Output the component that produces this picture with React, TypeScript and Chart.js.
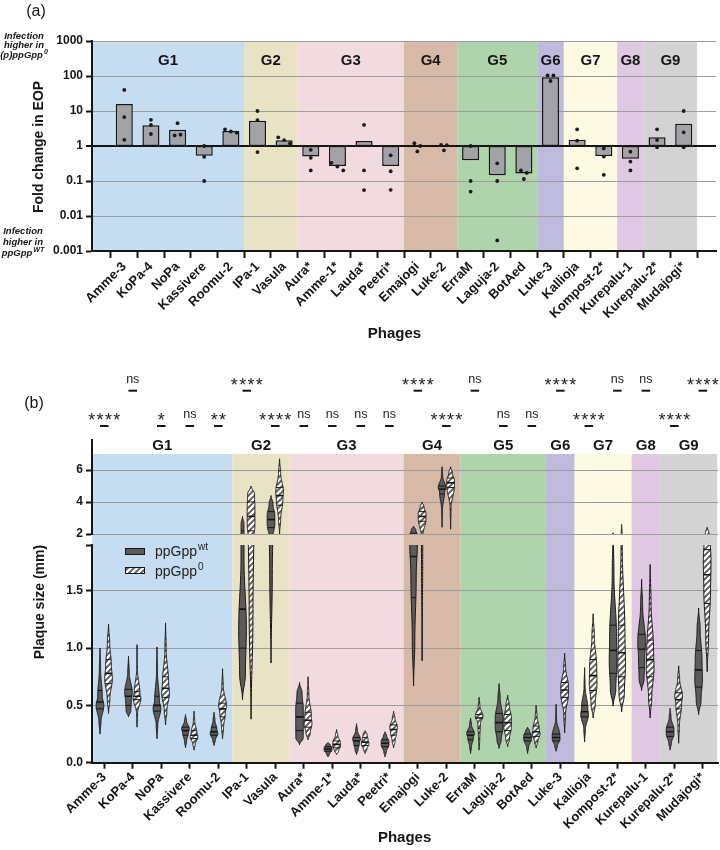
import React, { useEffect, useRef } from 'react';
import { Chart, registerables } from 'chart.js';

Chart.register(...registerables);

const FONT = '"Liberation Sans", Arial, Helvetica, sans-serif';
Chart.defaults.font.family = FONT;

// ---------- shared categories ----------
const phages = [
  'Amme-3', 'KoPa-4', 'NoPa', 'Kassivere', 'Roomu-2', 'IPa-1', 'Vasula', 'Aura*',
  'Amme-1*', 'Lauda*', 'Peetri*', 'Emajogi', 'Luke-2', 'ErraM', 'Laguja-2', 'BotAed',
  'Luke-3', 'Kallioja', 'Kompost-2*', 'Kurepalu-1', 'Kurepalu-2*', 'Mudajogi*',
];
const groupNames = ['G1', 'G2', 'G3', 'G4', 'G5', 'G6', 'G7', 'G8', 'G9'];
const groupSizes = [5, 2, 4, 2, 3, 1, 2, 1, 2];
const groupColors = [
  '#c6dcf1', '#e9e3c6', '#f2dbdf', '#d6b9a6', '#afd3aa',
  '#bdbadc', '#fcfae3', '#dfc9e2', '#d3d3d3',
];

// ---------- (a) fold change in EOP ----------
const eopMean = [15.8, 3.9, 2.9, 0.53, 2.7, 5.3, 1.45, 0.5, 0.27, 1.38, 0.27, 0.97, 0.96, 0.39, 0.145, 0.165, 92, 1.5, 0.52, 0.43, 1.78, 4.3];
const eopRep1 = [40, 5.6, 4.5, 1.0, 3.0, 10, 1.77, 0.78, 0.33, 4.0, 0.54, 1.2, 1.07, 1.0, 0.32, 0.2, 104, 3.0, 0.85, 0.69, 3.0, 10];
const eopRep2 = [6.7, 4.0, 2.0, 0.49, 2.6, 5.5, 1.48, 0.46, 0.26, 0.2, 0.19, 1.0, 1.05, 0.1, 0.1, 0.17, 104, 1.42, 0.5, 0.36, 1.48, 2.46];
const eopRep3 = [1.5, 2.2, 2.1, 0.1, 2.4, 0.67, 1.19, 0.2, 0.2, 0.055, 0.056, 0.7, 0.75, 0.05, 0.002, 0.114, 72, 0.23, 0.15, 0.2, 0.92, 0.92];
const eopTicks = [0.001, 0.01, 0.1, 1, 10, 100, 1000];
const eopTickLabels = ['0.001', '0.01', '0.1', '1', '10', '100', '1000'];

// ---------- (b) plaque size (mm): min, quartiles, max ----------
const wtMin = [0.25, 0.40, 0.21, 0.13, 0.15, 0.55, 0.87, 0.155, 0.05, 0.07, 0.05, 0.67, 2.42, 0.08, 0.125, 0.08, 0.10, 0.18, 0.495, 0.63, 0.11, 0.42];
const wtQ1 = [0.47, 0.50, 0.45, 0.24, 0.24, 1.0, 2.4, 0.28, 0.10, 0.15, 0.14, 1.44, 4.5, 0.20, 0.27, 0.19, 0.19, 0.40, 0.78, 0.83, 0.23, 0.66];
const wtMedian = [0.53, 0.58, 0.50, 0.28, 0.27, 1.34, 2.9, 0.40, 0.12, 0.19, 0.17, 1.80, 4.8, 0.24, 0.35, 0.22, 0.22, 0.445, 0.98, 0.99, 0.27, 0.81];
const wtQ3 = [0.63, 0.64, 0.58, 0.31, 0.31, 2.2, 3.4, 0.52, 0.14, 0.22, 0.20, 2.05, 5.0, 0.27, 0.43, 0.25, 0.25, 0.50, 1.2, 1.12, 0.31, 0.98];
const wtMax = [1.00, 0.93, 1.01, 0.42, 0.44, 3.1, 4.4, 0.70, 0.175, 0.34, 0.27, 2.5, 6.2, 0.39, 0.69, 0.31, 0.51, 0.83, 2.08, 1.60, 0.475, 1.35];

const koMin = [0.43, 0.31, 0.33, 0.11, 0.21, 0.38, 2.0, 0.20, 0.07, 0.08, 0.13, 0.89, 2.3, 0.11, 0.14, 0.13, 0.26, 0.39, 0.445, 0.39, 0.17, 0.795];
const koQ1 = [0.69, 0.55, 0.57, 0.21, 0.40, 2.2, 3.8, 0.31, 0.13, 0.15, 0.24, 2.8, 4.9, 0.30, 0.28, 0.23, 0.57, 0.63, 0.75, 0.75, 0.47, 1.39];
const koMedian = [0.78, 0.58, 0.65, 0.24, 0.47, 3.1, 4.4, 0.37, 0.16, 0.18, 0.29, 3.1, 5.2, 0.39, 0.35, 0.27, 0.635, 0.76, 0.96, 0.90, 0.55, 1.64];
const koQ3 = [0.90, 0.62, 0.75, 0.28, 0.52, 4.0, 4.9, 0.44, 0.19, 0.22, 0.33, 3.4, 5.5, 0.42, 0.42, 0.32, 0.70, 0.90, 1.2, 1.07, 0.61, 1.86];
const koMax = [1.21, 1.03, 1.22, 0.45, 0.82, 5.0, 6.7, 0.75, 0.29, 0.28, 0.45, 4.0, 6.2, 0.57, 0.59, 0.50, 0.955, 1.30, 2.6, 1.73, 0.845, 2.42];

const lowTicks = [0, 0.5, 1, 1.5, 1.9];
const lowTickLabels = ['0.0', '0.5', '1.0', '1.5', ''];
const highTicks = [2, 4, 6];
const highTickLabels = ['2', '4', '6'];

// significance per phage; row 0 = upper line, row 1 = lower line
const sigLabels = ['****', 'ns', '*', 'ns', '**', '****', '****', 'ns', 'ns', 'ns', 'ns', '****', '****', 'ns', 'ns', 'ns', '****', '****', 'ns', 'ns', '****', '****'];
const sigRow = [1, 0, 1, 1, 1, 0, 1, 1, 1, 1, 1, 0, 1, 0, 1, 1, 0, 1, 0, 0, 1, 0];

const INK = '#151515';
const GRID = '#9c9c9c';
const WT_FILL = '#5b5b5b';

// ---------- helpers ----------
function groupSpans() {
  const spans: { name: string; start: number; end: number; color: string }[] = [];
  let s = 0;
  groupSizes.forEach((n, g) => {
    spans.push({ name: groupNames[g], start: s - 0.5, end: s + n - 0.5, color: groupColors[g] });
    s += n;
  });
  return spans;
}

function jitterOffsets(vals: number[]) {
  const logs = vals.map((v) => Math.log10(v));
  const offs = vals.map(() => 0);
  const seen = new Set<number>();
  vals.forEach((_, j) => {
    if (seen.has(j)) return;
    const cluster = [j];
    for (let k = 0; k < cluster.length; k++) {
      for (let m = 0; m < vals.length; m++) {
        if (!cluster.includes(m) && Math.abs(logs[cluster[k]] - logs[m]) < 0.12) cluster.push(m);
      }
    }
    cluster.forEach((m) => seen.add(m));
    if (cluster.length > 1) {
      cluster.sort((a, b) => a - b);
      cluster.forEach((m, r) => { offs[m] = (r - (cluster.length - 1) / 2) * 0.22; });
    }
  });
  return offs;
}

function drawSupText(ctx: CanvasRenderingContext2D, base: string, sup: string, x: number, y: number,
  font: string, supFont: string, rise: number, align: 'left' | 'center') {
  ctx.save();
  ctx.textBaseline = 'alphabetic';
  ctx.textAlign = 'left';
  ctx.font = font;
  const wb = ctx.measureText(base).width;
  ctx.font = supFont;
  const ws = ctx.measureText(sup).width;
  const x0 = align === 'center' ? x - (wb + ws + 1) / 2 : x;
  ctx.font = font;
  ctx.fillText(base, x0, y);
  ctx.font = supFont;
  ctx.fillText(sup, x0 + wb + 1, y - rise);
  ctx.restore();
}

function drawBands(chart: any, topPx: number, bottomPx: number) {
  const { ctx, chartArea } = chart;
  const xs = chart.scales.x;
  ctx.save();
  groupSpans().forEach((g, k) => {
    const l = k === 0 ? chartArea.left : xs.getPixelForValue(g.start);
    const r = xs.getPixelForValue(g.end);
    ctx.fillStyle = g.color;
    ctx.fillRect(l, topPx, r - l, bottomPx - topPx);
  });
  ctx.restore();
}

function drawGroupLabels(chart: any, y: number) {
  const { ctx, chartArea } = chart;
  const xs = chart.scales.x;
  ctx.save();
  ctx.font = `bold 15px ${FONT}`;
  ctx.fillStyle = INK;
  ctx.textAlign = 'center';
  ctx.textBaseline = 'middle';
  groupSpans().forEach((g, k) => {
    const l = k === 0 ? chartArea.left : xs.getPixelForValue(g.start);
    const r = xs.getPixelForValue(g.end);
    ctx.fillText(g.name, (l + r) / 2, y);
  });
  ctx.restore();
}

function drawVerticalTitle(ctx: CanvasRenderingContext2D, text: string, x: number, y: number) {
  ctx.save();
  ctx.translate(x, y);
  ctx.rotate(-Math.PI / 2);
  ctx.font = `bold 14px ${FONT}`;
  ctx.fillStyle = INK;
  ctx.textAlign = 'center';
  ctx.textBaseline = 'middle';
  ctx.fillText(text, 0, 0);
  ctx.restore();
}

// width profile of a violin built from its quartile intervals
function violinShape(stats: number[]) {
  const [mn, q1, md, q3, mx] = stats;
  const seg = [q1 - mn, md - q1, q3 - md, mx - q3].map((d) => Math.max(d, 0.004));
  const dens = seg.map((d) => 0.25 / d);
  const peak = Math.max(...dens);
  const knots: [number, number][] = [
    [mn, 0],
    [(mn + q1) / 2, dens[0] / peak],
    [(q1 + md) / 2, dens[1] / peak],
    [(md + q3) / 2, dens[2] / peak],
    [(q3 + mx) / 2, dens[3] / peak],
    [mx, 0],
  ];
  return (v: number) => {
    for (let k = 0; k < knots.length - 1; k++) {
      const [a, wa] = knots[k];
      const [b, wb] = knots[k + 1];
      if (v >= a && v <= b) {
        const t = b > a ? (v - a) / (b - a) : 0;
        const s = (1 - Math.cos(Math.PI * t)) / 2;
        return wa + (wb - wa) * s;
      }
    }
    return 0;
  };
}

function drawViolin(ctx: CanvasRenderingContext2D, cx: number, ys: any, stats: number[], halfMax: number, fill: any) {
  const prof = violinShape(stats);
  const [mn, q1, md, q3, mx] = stats;
  const n = 120;
  ctx.beginPath();
  for (let k = 0; k <= n; k++) {
    const v = mn + ((mx - mn) * k) / n;
    const w = prof(v) * halfMax;
    const y = ys.getPixelForValue(v);
    if (k === 0) ctx.moveTo(cx + w, y); else ctx.lineTo(cx + w, y);
  }
  for (let k = n; k >= 0; k--) {
    const v = mn + ((mx - mn) * k) / n;
    ctx.lineTo(cx - prof(v) * halfMax, ys.getPixelForValue(v));
  }
  ctx.closePath();
  ctx.fillStyle = fill;
  ctx.fill();
  ctx.lineWidth = 1;
  ctx.strokeStyle = INK;
  ctx.stroke();
  ([[q1, 1], [md, 1.6], [q3, 1]] as [number, number][]).forEach(([v, lw]) => {
    const w = Math.max(prof(v) * halfMax, 0.8);
    const y = ys.getPixelForValue(v);
    ctx.beginPath();
    ctx.moveTo(cx - w, y);
    ctx.lineTo(cx + w, y);
    ctx.lineWidth = lw;
    ctx.strokeStyle = INK;
    ctx.stroke();
  });
}

function makeHatch(ctx: CanvasRenderingContext2D) {
  const c = document.createElement('canvas');
  c.width = 6;
  c.height = 6;
  const g = c.getContext('2d')!;
  g.fillStyle = WT_FILL;
  g.fillRect(0, 0, 6, 6);
  g.strokeStyle = '#ffffff';
  g.lineWidth = 2.3;
  g.beginPath();
  g.moveTo(-1, 7); g.lineTo(7, -1);
  g.moveTo(-4, 4); g.lineTo(4, -4);
  g.moveTo(2, 10); g.lineTo(10, 2);
  g.stroke();
  return ctx.createPattern(c, 'repeat');
}

// ---------- panel (a) ----------
const eopDecor = {
  id: 'eopDecor',
  beforeDraw(chart: any) {
    drawBands(chart, chart.chartArea.top, chart.chartArea.bottom);
  },
  afterDraw(chart: any) {
    const { ctx, chartArea } = chart;
    const xs = chart.scales.x;
    drawGroupLabels(chart, 61);

    ctx.save();
    ctx.fillStyle = INK;
    ctx.font = `16px ${FONT}`;
    ctx.textAlign = 'center';
    ctx.textBaseline = 'middle';
    ctx.fillText('(a)', 36, 12);

    const note = `italic bold 9.5px ${FONT}`;
    const noteSup = `italic bold 7px ${FONT}`;
    ctx.font = note;
    ctx.fillText('Infection', 24, 36);
    ctx.fillText('higher in', 24, 45.5);
    drawSupText(ctx, '(p)ppGpp', '0', 24, 58, note, noteSup, 4, 'center');
    ctx.font = note;
    ctx.fillText('Infection', 23, 231);
    ctx.fillText('higher in', 23, 242);
    drawSupText(ctx, 'ppGpp', 'WT', 23, 256, note, noteSup, 4, 'center');

    ctx.font = `bold 15px ${FONT}`;
    ctx.textBaseline = 'middle';
    ctx.fillText('Phages', (chartArea.left + xs.getPixelForValue(21.5)) / 2, 334);
    ctx.restore();

    drawVerticalTitle(ctx, 'Fold change in EOP', 39, 147);
  },
};

function buildEopChart(canvas: HTMLCanvasElement) {
  const reps = [eopRep1, eopRep2, eopRep3];
  const points: { x: number; y: number }[] = [];
  phages.forEach((_, i) => {
    const vals = reps.map((r) => r[i]);
    const offs = jitterOffsets(vals);
    vals.forEach((v, j) => points.push({ x: i + offs[j], y: v }));
  });

  return new Chart(canvas, {
    type: 'bar',
    data: {
      datasets: [
        {
          type: 'scatter',
          data: points,
          pointRadius: 1.9,
          pointBackgroundColor: '#1a1a1a',
          pointBorderWidth: 0,
          order: 0,
        } as any,
        {
          type: 'bar',
          data: phages.map((_, i) => ({ x: i, y: [1, eopMean[i]] })),
          backgroundColor: '#a3a3a7',
          borderColor: INK,
          borderWidth: 1.5,
          borderSkipped: false,
          barPercentage: 0.64,
          categoryPercentage: 1,
          order: 1,
        } as any,
      ],
    },
    options: {
      animation: false,
      responsive: false,
      maintainAspectRatio: false,
      devicePixelRatio: 1,
      layout: { padding: { top: 41, right: 2, left: 0, bottom: 0 } },
      plugins: { legend: { display: false }, tooltip: { enabled: false } },
      scales: {
        x: {
          type: 'linear',
          bounds: 'data',
          min: -0.68,
          max: 21.68,
          afterBuildTicks: (s: any) => { s.ticks = phages.map((_, i) => ({ value: i })); },
          afterFit: (s: any) => { s.height = 94; },
          ticks: {
            callback: (v: any) => phages[v] ?? '',
            autoSkip: false,
            minRotation: 45,
            maxRotation: 45,
            padding: 1,
            color: INK,
            font: { size: 13, weight: 'bold' },
          },
          grid: { drawOnChartArea: false, drawTicks: true, tickLength: 7, tickWidth: 2, tickColor: INK },
          border: { color: INK, width: 2 },
        },
        y: {
          type: 'logarithmic',
          bounds: 'data',
          min: 0.001,
          max: 1000,
          afterBuildTicks: (s: any) => { s.ticks = eopTicks.map((v) => ({ value: v })); },
          afterFit: (s: any) => { s.width = 92; },
          ticks: {
            callback: (_v: any, i: number) => eopTickLabels[i],
            color: INK,
            padding: 3,
            font: { size: 12, weight: 'bold' },
          },
          grid: {
            color: (c: any) => (c.tick && c.tick.value === 1 ? INK : c.tick && c.tick.value === 0.001 ? 'rgba(0,0,0,0)' : GRID),
            lineWidth: (c: any) => (c.tick && c.tick.value === 1 ? 2 : 1),
            tickColor: INK,
            tickLength: 6,
            tickWidth: 2,
          },
          border: { color: INK, width: 2 },
        },
      },
    },
    plugins: [eopDecor],
  } as any);
}

// ---------- panel (b) ----------
const plaqueDecor = {
  id: 'plaqueDecor',
  beforeDraw(chart: any) {
    const top = chart.scales.yHigh.getPixelForValue(7);
    const bottom = chart.scales.yLow.getPixelForValue(0);
    drawBands(chart, top, bottom);
  },
  afterDatasetsDraw(chart: any) {
    const { ctx, chartArea } = chart;
    const xs = chart.scales.x;
    const unit = xs.getPixelForValue(1) - xs.getPixelForValue(0);
    const halfMax = 0.135 * unit;
    const hatch = makeHatch(ctx);
    const series = [
      { mn: wtMin, q1: wtQ1, md: wtMedian, q3: wtQ3, mx: wtMax, dx: -0.15, fill: WT_FILL },
      { mn: koMin, q1: koQ1, md: koMedian, q3: koQ3, mx: koMax, dx: 0.15, fill: hatch },
    ];
    [chart.scales.yLow, chart.scales.yHigh].forEach((ys: any) => {
      ctx.save();
      ctx.beginPath();
      ctx.rect(chartArea.left, ys.top, chartArea.right - chartArea.left, ys.bottom - ys.top);
      ctx.clip();
      series.forEach((s) => {
        phages.forEach((_, i) => {
          const stats = [s.mn[i], s.q1[i], s.md[i], s.q3[i], s.mx[i]];
          if (stats[4] < ys.min || stats[0] > ys.max) return;
          drawViolin(ctx, xs.getPixelForValue(i + s.dx), ys, stats, halfMax, s.fill);
        });
      });
      ctx.restore();
    });

    // legend
    ctx.save();
    ctx.lineWidth = 1;
    ctx.strokeStyle = INK;
    ctx.fillStyle = WT_FILL;
    ctx.fillRect(125, 203, 20, 7);
    ctx.strokeRect(125.5, 203.5, 19, 6);
    ctx.fillStyle = hatch as any;
    ctx.fillRect(125, 222, 20, 7);
    ctx.strokeRect(125.5, 222.5, 19, 6);
    ctx.fillStyle = '#222';
    drawSupText(ctx, 'ppGpp', 'wt', 155, 211, `14px ${FONT}`, `10px ${FONT}`, 6, 'left');
    drawSupText(ctx, 'ppGpp', '0', 155, 231, `14px ${FONT}`, `10px ${FONT}`, 6, 'left');
    ctx.restore();
  },
  afterDraw(chart: any) {
    const { ctx, chartArea } = chart;
    const xs = chart.scales.x;
    drawGroupLabels(chart, 101);

    ctx.save();
    ctx.fillStyle = INK;
    ctx.font = `16px ${FONT}`;
    ctx.textAlign = 'center';
    ctx.textBaseline = 'middle';
    ctx.fillText('(b)', 34, 59);

    // significance marks
    const rowText = [34, 69];
    const rowDash = [45.7, 81];
    phages.forEach((_, i) => {
      const cx = xs.getPixelForValue(i);
      const r = sigRow[i];
      const lab = sigLabels[i];
      ctx.fillStyle = '#222';
      if (lab === 'ns') {
        ctx.font = `12.5px ${FONT}`;
        ctx.textAlign = 'center';
        ctx.textBaseline = 'alphabetic';
        ctx.fillText('ns', cx, rowText[r] + 4);
      } else {
        ctx.font = `18px ${FONT}`;
        ctx.textAlign = 'center';
        ctx.textBaseline = 'alphabetic';
        const n = lab.length;
        for (let k = 0; k < n; k++) {
          ctx.fillText('*', cx + (k - (n - 1) / 2) * 8.3, rowText[r] + 11.5);
        }
      }
      ctx.beginPath();
      ctx.moveTo(xs.getPixelForValue(i - 0.15), rowDash[r]);
      ctx.lineTo(xs.getPixelForValue(i + 0.15), rowDash[r]);
      ctx.lineWidth = 2;
      ctx.strokeStyle = INK;
      ctx.stroke();
    });

    ctx.fillStyle = INK;
    ctx.font = `bold 15px ${FONT}`;
    ctx.textAlign = 'center';
    ctx.textBaseline = 'middle';
    ctx.fillText('Phages', (chartArea.left + xs.getPixelForValue(21.5)) / 2, 493);
    ctx.restore();

    drawVerticalTitle(ctx, 'Plaque size (mm)', 40, 257);
  },
};

function buildPlaqueChart(canvas: HTMLCanvasElement) {
  const yCommon = {
    type: 'linear',
    position: 'left',
    stack: 'plaque',
    bounds: 'data',
    afterFit: (s: any) => { s.width = 92; },
  };
  return new Chart(canvas, {
    type: 'scatter',
    data: { datasets: [] },
    options: {
      animation: false,
      responsive: false,
      maintainAspectRatio: false,
      devicePixelRatio: 1,
      layout: { padding: { top: 95, right: 2, left: 0, bottom: 0 } },
      plugins: { legend: { display: false }, tooltip: { enabled: false } },
      scales: {
        x: {
          type: 'linear',
          bounds: 'data',
          min: -0.43,
          max: 21.53,
          afterBuildTicks: (s: any) => { s.ticks = phages.map((_, i) => ({ value: i })); },
          afterFit: (s: any) => { s.height = 87.3; },
          ticks: {
            callback: (v: any) => phages[v] ?? '',
            autoSkip: false,
            minRotation: 45,
            maxRotation: 45,
            padding: 1,
            color: INK,
            font: { size: 13, weight: 'bold' },
          },
          grid: { drawOnChartArea: false, drawTicks: true, tickLength: 6, tickWidth: 2, tickColor: INK },
          border: { color: INK, width: 2 },
        },
        yLow: {
          ...yCommon,
          stackWeight: 217.7,
          min: 0,
          max: 1.9,
          afterBuildTicks: (s: any) => { s.ticks = lowTicks.map((v) => ({ value: v })); },
          ticks: {
            callback: (_v: any, i: number) => lowTickLabels[i],
            color: INK,
            padding: 3,
            font: { size: 12, weight: 'bold' },
          },
          grid: {
            color: (c: any) => (c.tick && (c.tick.value === 0 || c.tick.value === 1.9) ? 'rgba(0,0,0,0)' : GRID),
            tickColor: INK,
            tickLength: 6,
            tickWidth: 2,
          },
          border: { color: INK, width: 2 },
        },
        yGap: {
          ...yCommon,
          stackWeight: 11,
          min: 0,
          max: 1,
          ticks: { display: false },
          grid: { display: false },
          border: { display: false },
        },
        yHigh: {
          ...yCommon,
          stackWeight: 94,
          min: 2,
          max: 7.875,
          afterBuildTicks: (s: any) => { s.ticks = highTicks.map((v) => ({ value: v })); },
          ticks: {
            callback: (_v: any, i: number) => highTickLabels[i],
            color: INK,
            padding: 3,
            font: { size: 12, weight: 'bold' },
          },
          grid: { color: GRID, tickColor: INK, tickLength: 6, tickWidth: 2 },
          border: { color: INK, width: 2 },
        },
      },
    },
    plugins: [plaqueDecor],
  } as any);
}

export default function App() {
  const eopRef = useRef<HTMLCanvasElement>(null);
  const plaqueRef = useRef<HTMLCanvasElement>(null);

  useEffect(() => {
    const a = buildEopChart(eopRef.current!);
    const b = buildPlaqueChart(plaqueRef.current!);
    return () => {
      a.destroy();
      b.destroy();
    };
  }, []);

  return (
    <div style={{ position: 'absolute', left: 0, top: 0, width: 720, height: 850, background: '#ffffff' }}>
      <canvas
        ref={eopRef}
        width={720}
        height={345}
        style={{ position: 'absolute', left: 0, top: 0, width: 720, height: 345 }}
      />
      <canvas
        ref={plaqueRef}
        width={720}
        height={505}
        style={{ position: 'absolute', left: 0, top: 345, width: 720, height: 505 }}
      />
    </div>
  );
}
